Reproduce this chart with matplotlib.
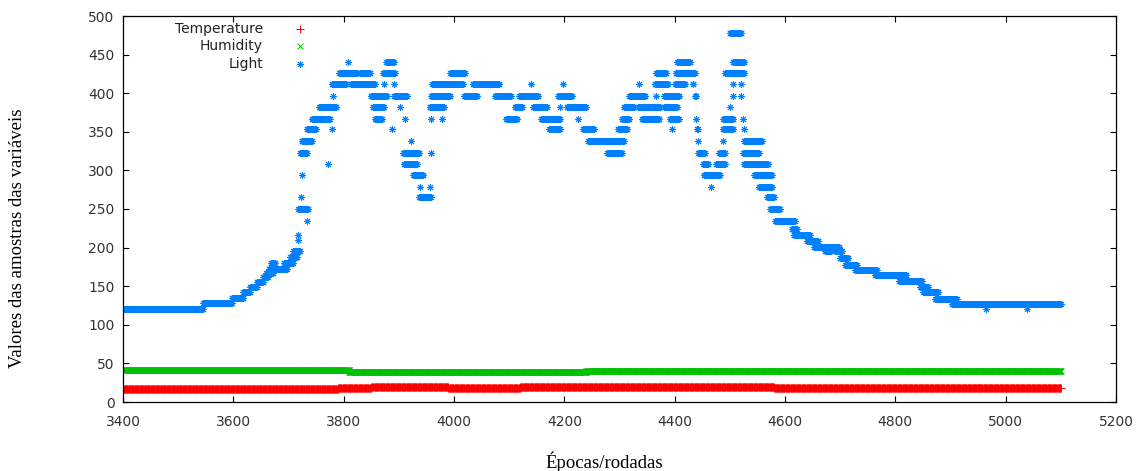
"""Light / humidity / temperature samples per epoch, gnuplot-style scatter.

Series are stored as runs (first epoch, last epoch, level) read off the
reference plot; every epoch in a run gets one sample at that level.
Writes out.png
"""
import matplotlib

matplotlib.use("Agg")
import matplotlib.pyplot as plt
import numpy as np

RED, GREEN, BLUE = "#ff0000", "#00c000", "#0080ff"

X_TICKS = [3400, 3600, 3800, 4000, 4200, 4400, 4600, 4800, 5000, 5200]
Y_TICKS = [0, 50, 100, 150, 200, 250, 300, 350, 400, 450, 500]

TEMPERATURE_RUNS = [
    (3400, 3790, 16.5), (3790, 3850, 18.0), (3850, 3990, 19.0),
    (3990, 4120, 18.0), (4120, 4580, 19.5), (4580, 4950, 18.0),
    (4950, 5100, 17.5),
]

HUMIDITY_RUNS = [
    (3400, 3810, 41.5), (3810, 4240, 38.5), (4240, 5100, 40.0),
]

LIGHT_RUNS = [
    # slow morning ramp
    (3400, 3545, 120), (3545, 3597, 128), (3597, 3618, 135), (3618, 3630, 142),
    (3630, 3642, 149), (3642, 3654, 155), (3654, 3662, 162), (3660, 3672, 167),
    (3664, 3679, 172), (3668, 3676, 180), (3679, 3697, 172), (3691, 3709, 180),
    (3703, 3715, 188), (3709, 3720, 195),
    # jump up
    (3718, 3718, 210), (3718, 3718, 216), (3734, 3734, 235), (3718, 3736, 250),
    (3722, 3722, 265), (3724, 3724, 294), (3721, 3733, 323), (3724, 3742, 338),
    (3733, 3749, 353), (3742, 3775, 367), (3756, 3787, 382), (3772, 3772, 308),
    (3778, 3778, 353), (3781, 3781, 397), (3778, 3805, 412), (3792, 3825, 426),
    (3808, 3808, 441), (3813, 3856, 412), (3830, 3848, 426), (3849, 3878, 397),
    (3853, 3873, 382), (3856, 3869, 367), (3871, 3893, 426), (3874, 3874, 412),
    (3877, 3891, 441), (3888, 3888, 353), (3891, 3914, 397), (3892, 3892, 412),
    (3902, 3902, 382),
    # dip near 3930
    (3908, 3937, 323), (3909, 3933, 308), (3912, 3912, 367), (3922, 3922, 338),
    (3926, 3944, 294), (3937, 3958, 265), (3938, 3938, 279), (3956, 3956, 279),
    (3958, 3958, 323), (3958, 3958, 367), (3956, 3981, 382), (3959, 3993, 397),
    (3961, 4016, 412), (3978, 3978, 367), (3993, 4020, 426),
    # plateau
    (4019, 4042, 397), (4034, 4082, 412), (4074, 4103, 397), (4094, 4115, 367),
    (4110, 4124, 382), (4118, 4153, 397), (4139, 4139, 412), (4144, 4168, 382),
    (4158, 4192, 367), (4173, 4192, 353), (4189, 4213, 397), (4192, 4192, 382),
    (4198, 4198, 412), (4204, 4239, 382), (4225, 4225, 367), (4233, 4253, 353),
    (4243, 4308, 338), (4278, 4304, 323), (4297, 4314, 353), (4304, 4318, 367),
    (4308, 4326, 382), (4318, 4347, 397), (4336, 4336, 412), (4334, 4373, 382),
    (4340, 4372, 367), (4364, 4388, 412), (4367, 4385, 426), (4367, 4367, 397),
    (4381, 4408, 397), (4381, 4405, 382), (4391, 4407, 367), (4396, 4396, 353),
    (4401, 4419, 412), (4402, 4437, 426), (4405, 4428, 441),
    # dip near 4460 and the 478 spike
    (4433, 4434, 412), (4437, 4439, 397), (4439, 4439, 367), (4441, 4442, 353),
    (4443, 4443, 338), (4443, 4455, 323), (4452, 4461, 308), (4453, 4482, 294),
    (4466, 4466, 279), (4475, 4491, 308), (4481, 4491, 323), (4487, 4506, 353),
    (4488, 4488, 338), (4488, 4506, 367), (4491, 4526, 426), (4500, 4521, 478),
    (4501, 4501, 382), (4505, 4526, 441), (4506, 4506, 412), (4506, 4506, 397),
    (4521, 4521, 412), (4521, 4521, 397), (4524, 4524, 367), (4526, 4526, 353),
    # evening decline
    (4524, 4552, 323), (4525, 4570, 308), (4526, 4558, 338), (4544, 4576, 294),
    (4552, 4576, 279), (4568, 4580, 265), (4573, 4591, 250), (4582, 4618, 235),
    (4612, 4621, 224), (4616, 4645, 216), (4639, 4660, 209), (4652, 4698, 201),
    (4672, 4684, 195), (4691, 4703, 195), (4700, 4715, 187), (4709, 4730, 178),
    (4727, 4766, 171), (4763, 4820, 164), (4807, 4848, 157), (4845, 4860, 149),
    (4851, 4878, 142), (4872, 4911, 134), (4902, 5100, 127),
    (4965, 4965, 120), (5039, 5039, 120),
]


def expand(runs):
    xs, ys = [], []
    for a, b, v in runs:
        e = np.arange(a, b + 1)
        xs.append(e)
        ys.append(np.full(len(e), float(v)))
    return np.concatenate(xs), np.concatenate(ys)


ASTERISK = (8, 2, 0)
STYLE = {
    "Temperature": dict(marker="+", color=RED, ms=6, mew=0.7),
    "Humidity": dict(marker="x", color=GREEN, ms=4.6, mew=0.7),
    "Light": dict(marker=ASTERISK, color=BLUE, ms=5, mew=0.7),
}

fig = plt.figure(figsize=(11.36, 4.71), dpi=100)
ax = fig.add_axes([123 / 1136, 1 - 402 / 471, 993 / 1136, 386 / 471])

for name, runs in [("Temperature", TEMPERATURE_RUNS), ("Humidity", HUMIDITY_RUNS),
                   ("Light", LIGHT_RUNS)]:
    x, y = expand(runs)
    ax.plot(x, y, linestyle="none", **STYLE[name])

ax.set_xlim(3400, 5200)
ax.set_ylim(0, 500)
ax.set_xticks(X_TICKS)
ax.set_yticks(Y_TICKS)
ax.tick_params(direction="in", length=4.5, width=0.8, top=True, right=True,
               labelsize=10, colors="black")
ax.tick_params(axis="x", pad=9)
ax.tick_params(axis="y", pad=6)
for lab in ax.get_xticklabels() + ax.get_yticklabels():
    lab.set_color("#333333")
for sp in ax.spines.values():
    sp.set_linewidth(0.9)

serif = ["Liberation Serif", "DejaVu Serif"]
ax.set_xlabel("Épocas/rodadas", family=serif, fontsize=13.5, va="center")
ax.set_ylabel("Valores das amostras das variáveis", family=serif, fontsize=13.5,
              va="center")
ax.xaxis.set_label_coords(0.485, -0.155)
ax.yaxis.set_label_coords(-0.106, 0.425)

# gnuplot-style key: right-justified text, sample marker to its right
for i, name in enumerate(["Temperature", "Humidity", "Light"]):
    yk = [0.966, 0.922, 0.876][i]
    ax.text(0.141, yk, name, transform=ax.transAxes, ha="right", va="center",
            fontsize=10, color="#222222")
    ax.plot([0.178], [yk], transform=ax.transAxes, linestyle="none",
            clip_on=False, **STYLE[name])

fig.savefig("out.png", dpi=100)
